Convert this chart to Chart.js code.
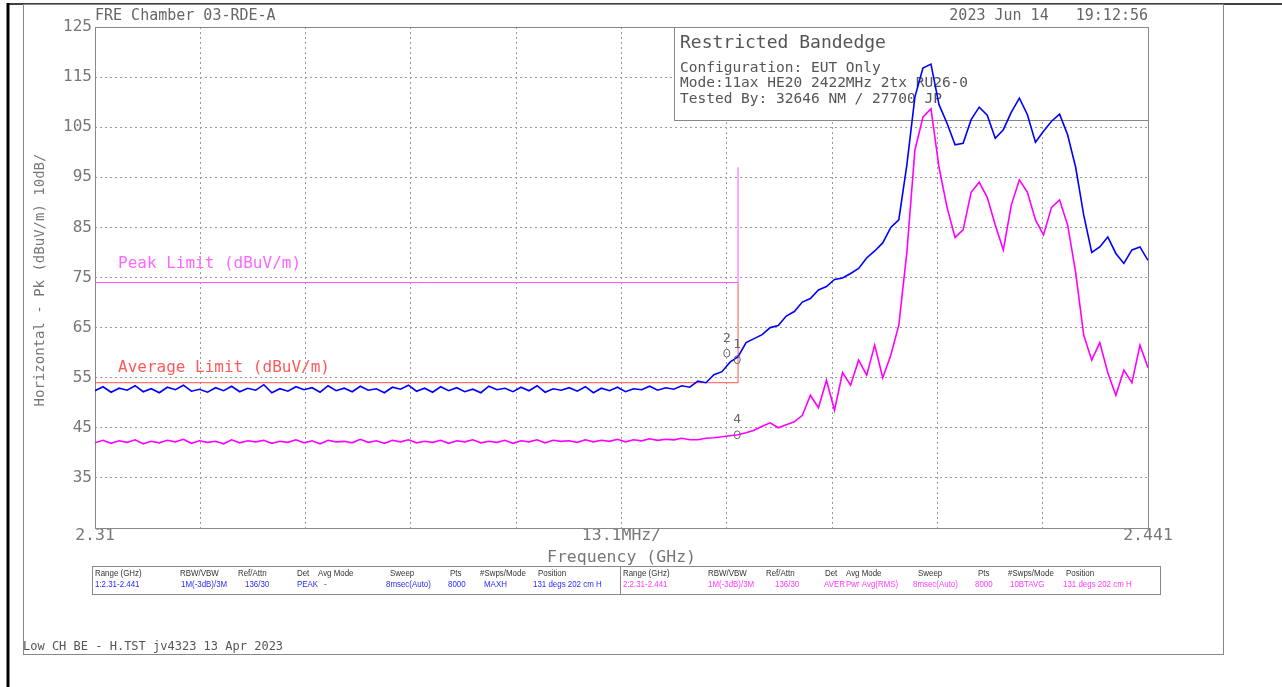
<!DOCTYPE html>
<html>
<head>
<meta charset="utf-8">
<title>Restricted Bandedge</title>
<script src="https://cdn.jsdelivr.net/npm/chart.js@4.4.0/dist/chart.umd.min.js"></script>
<style>
  html, body { margin: 0; padding: 0; background: #fff; }
  canvas { display: block; }
</style>
</head>
<body>
<canvas id="scanChart" width="1282" height="687"></canvas>
<script>
// sweep points (GHz)
const freqGHz = [
  2.310, 2.311, 2.312, 2.313, 2.314, 2.315, 2.316, 2.317, 2.318, 2.319,
  2.320, 2.321, 2.322, 2.323, 2.324, 2.325, 2.326, 2.327, 2.328, 2.329,
  2.330, 2.331, 2.332, 2.333, 2.334, 2.335, 2.336, 2.337, 2.338, 2.339,
  2.340, 2.341, 2.342, 2.343, 2.344, 2.345, 2.346, 2.347, 2.348, 2.349,
  2.350, 2.351, 2.352, 2.353, 2.354, 2.355, 2.356, 2.357, 2.358, 2.359,
  2.360, 2.361, 2.362, 2.363, 2.364, 2.365, 2.366, 2.367, 2.368, 2.369,
  2.370, 2.371, 2.372, 2.373, 2.374, 2.375, 2.376, 2.377, 2.378, 2.379,
  2.380, 2.381, 2.382, 2.383, 2.384, 2.385, 2.386, 2.387, 2.388, 2.389,
  2.390, 2.391, 2.392, 2.393, 2.394, 2.395, 2.396, 2.397, 2.398, 2.399,
  2.400, 2.401, 2.402, 2.403, 2.404, 2.405, 2.406, 2.407, 2.408, 2.409,
  2.410, 2.411, 2.412, 2.413, 2.414, 2.415, 2.416, 2.417, 2.418, 2.419,
  2.420, 2.421, 2.422, 2.423, 2.424, 2.425, 2.426, 2.427, 2.428, 2.429,
  2.430, 2.431, 2.432, 2.433, 2.434, 2.435, 2.436, 2.437, 2.438, 2.439,
  2.440, 2.441
];

// trace 1: peak / max hold (dBuV/m)
const peakTrace = [
  52.4, 53.2, 52.1, 52.9, 52.5, 53.4, 52.2, 52.8, 52.0, 53.1,
  52.6, 53.5, 52.3, 52.7, 52.1, 53.0, 52.4, 53.3, 52.2, 52.9,
  52.5, 53.6, 52.0, 52.8, 52.3, 53.2, 52.6, 53.0, 52.1, 53.4,
  52.4, 52.9, 52.2, 53.3, 52.5, 52.8, 52.0, 53.1, 52.7, 53.5,
  52.3, 52.9, 52.1, 53.2, 52.4, 53.0, 52.2, 52.7, 52.0, 53.3,
  52.6, 52.9, 52.2, 53.1, 52.4, 53.4, 52.1, 52.8, 52.5, 53.0,
  52.3, 53.2, 52.0, 52.9, 52.4, 53.1, 52.2, 52.8, 52.6, 53.3,
  52.5, 53.0, 52.7, 53.4, 53.1, 54.3, 54.0, 55.6, 56.2, 58.1,
  59.2, 62.0, 62.8, 63.6, 65.0, 65.4, 67.3, 68.2, 70.1, 70.8,
  72.5, 73.2, 74.6, 74.9, 75.8, 76.8, 78.9, 80.3, 81.9, 85.0,
  86.5, 97.5, 111.0, 116.8, 117.6, 109.5, 105.8, 101.5, 101.8, 106.5,
  109.0, 107.4, 102.8, 104.5, 108.0, 110.8, 107.5, 102.0, 104.2, 106.2,
  107.6, 103.5, 97.0, 87.5, 80.0, 81.1, 83.1, 79.8, 77.8, 80.5,
  81.1, 78.4
];

// trace 2: average (dBuV/m)
const avgTrace = [
  42.0, 42.5, 41.9, 42.4, 42.1, 42.6, 41.8, 42.3, 42.0, 42.5,
  42.2, 42.7, 41.9, 42.4, 42.1, 42.3, 41.8, 42.6, 42.0, 42.4,
  42.2, 42.5, 41.9, 42.3, 42.1, 42.6, 42.0, 42.4, 41.8, 42.5,
  42.2, 42.3, 42.0, 42.7, 42.1, 42.4, 41.9, 42.5, 42.2, 42.6,
  42.0, 42.3, 42.1, 42.5, 41.9, 42.4, 42.2, 42.6, 42.0, 42.3,
  42.1, 42.5, 41.9, 42.4, 42.2, 42.6, 42.0, 42.5, 42.3, 42.4,
  42.1, 42.6, 42.2, 42.5, 42.3, 42.7, 42.2, 42.6, 42.4, 42.8,
  42.5, 42.7, 42.6, 42.9, 42.6, 42.6, 42.9, 43.0, 43.2, 43.4,
  43.6, 44.0, 44.5, 45.3, 46.0, 45.0, 45.6, 46.2, 47.5, 51.5,
  49.0, 54.5, 48.5, 56.0, 53.5, 58.5, 55.5, 61.5, 55.0, 59.5,
  65.5, 80.0, 100.4, 107.0, 108.7, 97.0, 89.0, 83.0, 84.5, 92.0,
  94.0, 91.0, 85.5, 80.5, 89.5, 94.5, 92.0, 86.5, 83.5, 89.0,
  90.5, 85.5, 76.0, 63.5, 58.5, 62.0, 56.0, 51.5, 56.5, 54.0,
  61.5, 57.0
];

// limit lines
const peakLimitFreq = [2.31, 2.39, 2.39];
const peakLimitLevel = [74, 74, 97];
const avgLimitFreq = [2.31, 2.39, 2.39];
const avgLimitLevel = [54, 54, 74];

// axes
const yTicks = [25, 35, 45, 55, 65, 75, 85, 95, 105, 115, 125];
const xGridFreqs = [2.31, 2.3231, 2.3362, 2.3493, 2.3624, 2.3755, 2.3886, 2.4017, 2.4148, 2.4279, 2.441];
const xLabelFreqs = [2.31, 2.3755, 2.441];
const xLabelText = ["2.31", "13.1MHz/", "2.441"];

// markers
const markerNames = ["2", "1", "4"];
const markerFreq = [2.3886, 2.3899, 2.3899];
const markerLevel = [59.9, 58.6, 43.6];

// bottom trace table
const tableHeads = ["Range (GHz)", "RBW/VBW", "Ref/Attn", "Det", "Avg Mode", "Sweep", "Pts", "#Swps/Mode", "Position"];
const trace1Row = ["1:2.31-2.441", "1M(-3dB)/3M", "136/30", "PEAK", "-", "8msec(Auto)", "8000", "MAXH", "131 degs 202 cm H"];
const trace2Row = ["2:2.31-2.441", "1M(-3dB)/3M", "136/30", "AVER", "Pwr Avg(RMS)", "8msec(Auto)", "8000", "10BTAVG", "131 degs 202 cm H"];

const headX = [0, 85, 143, 202, 223, 295, 355, 385, 443];
const row1X = [0, 86, 150, 202, 229, 291, 353, 389, 438];
const row2X = [0, 85, 152, 201, 223, 290, 352, 387, 440];

const MONO = '"DejaVu Sans Mono", monospace';

function toPoints(xs, ys) {
    return xs.map((x, i) => ({ x: x, y: ys[i] }));
}

function text(ctx, str, x, y, font, color, align) {
    ctx.font = font;
    ctx.fillStyle = color;
    ctx.textAlign = align || "left";
    ctx.textBaseline = "middle";
    ctx.fillText(str, x, y);
}

// narrow text for the trace table
function smallText(ctx, str, x, y, color) {
    ctx.save();
    ctx.translate(x, y);
    ctx.scale(0.88, 1);
    text(ctx, str, 0, 0, '9px "Liberation Sans", Arial, sans-serif', color);
    ctx.restore();
}

const plotterDecor = {
    id: "plotterDecor",
    beforeDraw(chart) {
        const ctx = chart.ctx;
        const area = chart.chartArea;
        const y = chart.scales.y;
        const x = chart.scales.x;
        ctx.save();
        ctx.fillStyle = "#fff";
        ctx.fillRect(0, 0, chart.width, chart.height);

        // page frame
        ctx.strokeStyle = "#000";
        ctx.lineWidth = 1.5;
        ctx.beginPath();
        ctx.moveTo(8, 4); ctx.lineTo(1282, 4);
        ctx.stroke();
        ctx.lineWidth = 3;
        ctx.beginPath();
        ctx.moveTo(8, 3); ctx.lineTo(8, 687);
        ctx.stroke();
        ctx.strokeStyle = "#888";
        ctx.lineWidth = 1;
        ctx.strokeRect(23.5, 4.5, 1200, 650);

        // headers
        text(ctx, "FRE Chamber 03-RDE-A", area.left, 16, "15px " + MONO, "#666");
        text(ctx, "2023 Jun 14   19:12:56", area.right, 16, "15px " + MONO, "#666", "right");

        // y tick labels
        yTicks.forEach(v => {
            if (v === 25) return;
            text(ctx, String(v), area.left - 3, y.getPixelForValue(v), "16px " + MONO, "#777", "right");
        });

        // y title
        ctx.save();
        ctx.translate(40, 280);
        ctx.rotate(-Math.PI / 2);
        text(ctx, "Horizontal - Pk (dBuV/m) 10dB/", 0, 0, "14px " + MONO, "#777", "center");
        ctx.restore();

        // x labels
        xLabelFreqs.forEach((f, i) => {
            text(ctx, xLabelText[i], x.getPixelForValue(f), 536, "16.5px " + MONO, "#777", "center");
        });
        text(ctx, "Frequency (GHz)", (area.left + area.right) / 2, 558, "16.5px " + MONO, "#777", "center");

        // trace table
        ctx.strokeStyle = "#888";
        ctx.strokeRect(92.5, 566.5, 1068, 28);
        ctx.beginPath();
        ctx.moveTo(620.5, 566); ctx.lineTo(620.5, 595);
        ctx.stroke();
        tableHeads.forEach((h, i) => {
            smallText(ctx, h, 95 + headX[i], 574, "#333");
            smallText(ctx, h, 623 + headX[i], 574, "#333");
        });
        trace1Row.forEach((v, i) => smallText(ctx, v, 95 + row1X[i], 585, "#2a2aff"));
        trace2Row.forEach((v, i) => smallText(ctx, v, 623 + row2X[i], 585, "#ff3cff"));

        // footer
        text(ctx, "Low CH BE - H.TST jv4323 13 Apr 2023", 23, 647, "12px " + MONO, "#555");
        ctx.restore();
    },
    beforeDatasetsDraw(chart) {
        const ctx = chart.ctx;
        const area = chart.chartArea;
        ctx.save();
        // plot border
        ctx.strokeStyle = "#888";
        ctx.lineWidth = 1;
        ctx.strokeRect(area.left + 0.5, area.top + 0.5, area.right - area.left, area.bottom - area.top);

        // annotation box
        ctx.fillStyle = "#fff";
        ctx.fillRect(674, 27, area.right - 674, 93);
        ctx.strokeRect(674.5, 27.5, area.right - 674, 93);
        text(ctx, "Restricted Bandedge", 680, 43, "18px " + MONO, "#555");
        text(ctx, "Configuration: EUT Only", 680, 68, "14.5px " + MONO, "#555");
        text(ctx, "Mode:11ax HE20 2422MHz 2tx RU26-0", 680, 83, "14.5px " + MONO, "#555");
        text(ctx, "Tested By: 32646 NM / 27700 JP", 680, 99, "14.5px " + MONO, "#555");

        // limit labels
        text(ctx, "Peak Limit (dBuV/m)", 118, 264, "16px " + MONO, "#ff66ff");
        text(ctx, "Average Limit (dBuV/m)", 118, 368, "16px " + MONO, "#ff5a5a");
        ctx.restore();
    },
    afterDatasetsDraw(chart) {
        const ctx = chart.ctx;
        const x = chart.scales.x;
        const y = chart.scales.y;
        ctx.save();
        markerNames.forEach((name, i) => {
            const px = x.getPixelForValue(markerFreq[i]);
            const py = y.getPixelForValue(markerLevel[i]);
            text(ctx, name, px, py - 15, "13px " + MONO, "#666", "center");
            ctx.strokeStyle = "#666";
            ctx.lineWidth = 1;
            ctx.beginPath();
            ctx.ellipse(px, py, 3, 4, 0, 0, Math.PI * 2);
            ctx.stroke();
        });
        ctx.restore();
    }
};

const ctx = document.getElementById("scanChart").getContext("2d");
new Chart(ctx, {
    type: "line",
    data: {
        datasets: [
            {
                label: "Trace 1 Peak",
                data: toPoints(freqGHz, peakTrace),
                borderColor: "#0000ff",
                borderWidth: 1.6,
            },
            {
                label: "Trace 2 Average",
                data: toPoints(freqGHz, avgTrace),
                borderColor: "#ff00ff",
                borderWidth: 1.6,
            },
            {
                label: "Peak Limit",
                data: toPoints(peakLimitFreq, peakLimitLevel),
                borderColor: "#ff55ff",
                borderWidth: 1,
            },
            {
                label: "Average Limit",
                data: toPoints(avgLimitFreq, avgLimitLevel),
                borderColor: "#ff5050",
                borderWidth: 1,
            },
        ],
    },
    options: {
        responsive: false,
        animation: false,
        devicePixelRatio: 1,
        layout: { padding: { left: 95, top: 27, right: 134, bottom: 159 } },
        elements: {
            point: { radius: 0 },
            line: { tension: 0, fill: false },
        },
        plugins: {
            legend: { display: false },
            tooltip: { enabled: false },
        },
        scales: {
            x: {
                type: "linear",
                min: 2.31,
                max: 2.441,
                afterBuildTicks: (axis) => { axis.ticks = xGridFreqs.map(v => ({ value: v })); },
                ticks: { display: false },
                grid: { color: "#999", lineWidth: 1, drawTicks: false },
                border: { display: false, dash: [2, 3] },
            },
            y: {
                type: "linear",
                min: 25,
                max: 125,
                afterBuildTicks: (axis) => { axis.ticks = yTicks.map(v => ({ value: v })); },
                ticks: { display: false },
                grid: { color: "#999", lineWidth: 1, drawTicks: false },
                border: { display: false, dash: [2, 3] },
            },
        },
    },
    plugins: [plotterDecor],
});
</script>
</body>
</html>
